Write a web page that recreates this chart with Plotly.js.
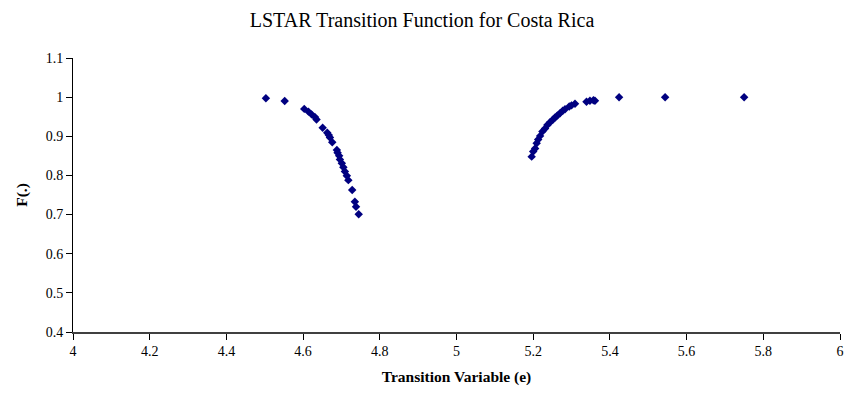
<!DOCTYPE html>
<html>
<head>
<meta charset="utf-8">
<script src="https://cdn.plot.ly/plotly-3.0.1.min.js"></script>
<style>html,body{margin:0;padding:0;background:#fff;}#chart{width:844px;height:402px;}</style>
</head>
<body>
<div id="chart"></div>
<script>
// Transition variable values (x) and LSTAR transition function values F(.) (y)
var transitionVar = [
  4.503, 4.552, 4.603, 4.614, 4.622, 4.631, 4.635, 4.651, 4.663, 4.667,
  4.670, 4.676, 4.688, 4.690, 4.694, 4.696, 4.701, 4.705, 4.709, 4.714,
  4.718, 4.728, 4.735, 4.738, 4.745,
  5.196, 5.200, 5.205, 5.209, 5.213, 5.218, 5.224, 5.231, 5.237, 5.244,
  5.251, 5.257, 5.263, 5.270, 5.277, 5.283, 5.294, 5.300, 5.309, 5.339,
  5.348, 5.357, 5.361, 5.424, 5.544, 5.750
];
var fValues = [
  0.997, 0.990, 0.970, 0.963, 0.956, 0.949, 0.943, 0.922, 0.909, 0.903,
  0.897, 0.885, 0.865, 0.858, 0.850, 0.841, 0.831, 0.821, 0.810, 0.799,
  0.788, 0.763, 0.733, 0.720, 0.701,
  0.848, 0.861, 0.869, 0.882, 0.892, 0.901, 0.912, 0.920, 0.929, 0.936,
  0.942, 0.948, 0.953, 0.959, 0.965, 0.969, 0.976, 0.979, 0.983, 0.988,
  0.991, 0.992, 0.991, 0.9997, 0.9997, 0.9997
];
var chartTitle = "LSTAR Transition Function for Costa Rica";
var xTitle = "Transition Variable (e)";
var yTitle = "F(.)";

var serif = "Liberation Serif";

var trace = {
  x: transitionVar,
  y: fValues,
  mode: "markers",
  type: "scatter",
  marker: {symbol: "diamond", size: 6.5, color: "#000080"},
  hoverinfo: "x+y"
};

var layout = {
  width: 844, height: 402,
  paper_bgcolor: "#fff", plot_bgcolor: "#fff",
  margin: {l: 73, r: 4, t: 58, b: 70},
  showlegend: false,
  font: {family: serif, color: "#000"},
  title: {text: chartTitle, font: {family: serif, size: 20, color: "#000"}, x: 0.5, xanchor: "center", y: 0.95, yanchor: "middle"},
  xaxis: {
    range: [4, 6], dtick: 0.2, tick0: 4,
    showgrid: false, zeroline: false,
    showline: true, linecolor: "#404040", linewidth: 1.5,
    ticks: "outside", ticklen: 6, tickcolor: "#000",
    tickfont: {family: serif, size: 14, color: "#000"},
    title: {text: "<b>" + xTitle + "</b>", font: {family: serif, size: 15.5, color: "#000"}, standoff: 13},
    fixedrange: true
  },
  yaxis: {
    range: [0.4, 1.1], dtick: 0.1, tick0: 0.4,
    showgrid: false, zeroline: false,
    showline: true, linecolor: "#000", linewidth: 1,
    ticks: "outside", ticklen: 6, tickcolor: "#000",
    tickfont: {family: serif, size: 14, color: "#000"},
    title: {text: "<b>" + yTitle + "</b>", font: {family: serif, size: 15.5, color: "#000"}, standoff: 14},
    fixedrange: true
  }
};

Plotly.newPlot("chart", [trace], layout, {displayModeBar: false, staticPlot: true});
</script>
</body>
</html>
